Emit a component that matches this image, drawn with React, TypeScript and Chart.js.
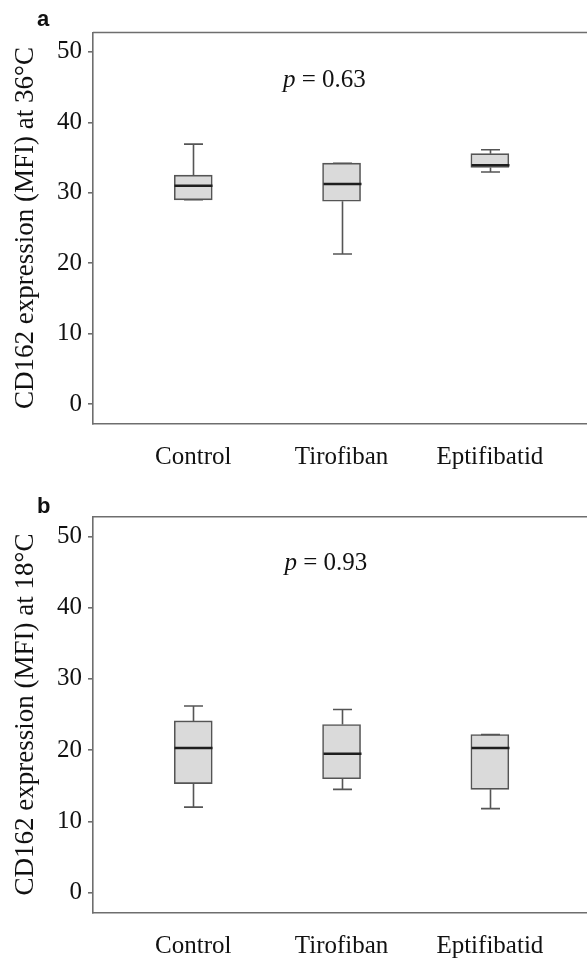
import React, { useEffect, useRef } from 'react';
import { Chart, registerables } from 'chart.js';
Chart.register(...registerables);

const categories = ['Control', 'Tirofiban', 'Eptifibatid'];
const positions = [1, 2, 3];
const yTicks = [0, 10, 20, 30, 40, 50];

// Panel a: CD162 at 36°C
const minA = [29.0, 21.3, 32.95];
const q1A = [29.0, 28.8, 33.6];
const medA = [31.0, 31.25, 33.9];
const q3A = [32.5, 34.2, 35.55];
const maxA = [36.9, 34.2, 36.1];

// Panel b: CD162 at 18°C
const minB = [12.0, 14.5, 11.8];
const q1B = [15.3, 16.0, 14.5];
const medB = [20.3, 19.5, 20.3];
const q3B = [24.1, 23.6, 22.2];
const maxB = [26.2, 25.7, 22.2];

const SERIF = '"Liberation Serif", "DejaVu Serif", serif';
const SANS = '"Liberation Sans", Arial, sans-serif';
const AXIS = '#6e6e6e';
const BOXLINE = '#555555';

type Stats = { min: number[]; q1: number[]; med: number[]; q3: number[]; max: number[] };

const boxExtras = {
  id: 'boxExtras',
  afterDatasetsDraw(chart: any, _a: any, opts: any) {
    const { ctx, scales } = chart;
    const x = scales.x;
    const y = scales.y;
    const s: Stats = opts.stats;
    ctx.save();
    for (let i = 0; i < positions.length; i++) {
      const cx = Math.round(x.getPixelForValue(positions[i])) + 0.5;
      const capHalf = x.getPixelForValue(positions[i] + 0.064) - x.getPixelForValue(positions[i]);
      const yMin = y.getPixelForValue(s.min[i]);
      const yQ1 = y.getPixelForValue(s.q1[i]);
      const yQ3 = y.getPixelForValue(s.q3[i]);
      const yMax = y.getPixelForValue(s.max[i]);
      const yMed = y.getPixelForValue(s.med[i]);
      ctx.strokeStyle = BOXLINE;
      ctx.lineWidth = 1.6;
      ctx.beginPath();
      ctx.moveTo(cx, yQ3);
      ctx.lineTo(cx, yMax);
      ctx.moveTo(cx - capHalf, yMax);
      ctx.lineTo(cx + capHalf, yMax);
      ctx.moveTo(cx, yQ1);
      ctx.lineTo(cx, yMin);
      ctx.moveTo(cx - capHalf, yMin);
      ctx.lineTo(cx + capHalf, yMin);
      ctx.stroke();
      const bw = opts.boxHalf;
      ctx.strokeStyle = '#1e1e1e';
      ctx.lineWidth = 2.6;
      ctx.beginPath();
      ctx.moveTo(cx - bw, yMed);
      ctx.lineTo(cx + bw, yMed);
      ctx.stroke();
    }
    ctx.restore();
  },
  afterDraw(chart: any, _a: any, opts: any) {
    const { ctx, chartArea } = chart;
    ctx.save();
    // top frame line
    ctx.strokeStyle = AXIS;
    ctx.lineWidth = 1.6;
    ctx.beginPath();
    ctx.moveTo(chartArea.left, chartArea.top);
    ctx.lineTo(chart.width, chartArea.top);
    ctx.stroke();
    // panel letter
    ctx.fillStyle = '#111';
    ctx.font = `bold 22px ${SANS}`;
    ctx.textBaseline = 'alphabetic';
    ctx.textAlign = 'left';
    ctx.fillText(opts.letter, 37, opts.letterY);
    // p value
    ctx.font = `italic 25px ${SERIF}`;
    ctx.fillText('p', opts.pX, opts.pY);
    const pw = ctx.measureText('p').width;
    ctx.font = `25px ${SERIF}`;
    ctx.fillText(' = ' + opts.pText, opts.pX + pw, opts.pY);
    ctx.restore();
  },
};

type PanelProps = {
  stats: Stats;
  title: string;
  letter: string;
  letterY: number;
  pText: string;
  pX: number;
  pY: number;
  padTop: number;
  xHeight: number;
  height: number;
  top: number;
};

function Panel(p: PanelProps) {
  const ref = useRef<HTMLCanvasElement | null>(null);
  useEffect(() => {
    if (!ref.current) return;
    const s = p.stats;
    const chart = new Chart(ref.current, {
      type: 'bar',
      data: {
        datasets: [
          {
            data: positions.map((pos, i) => ({ x: pos, y: [s.q1[i], s.q3[i]] })) as any,
            backgroundColor: '#dadada',
            borderColor: BOXLINE,
            borderWidth: 1.6,
            borderSkipped: false,
            barThickness: 38,
          },
        ],
      },
      options: {
        animation: false,
        responsive: false,
        maintainAspectRatio: false,
        layout: { padding: { top: p.padTop, left: 0, right: 0, bottom: 0 } },
        plugins: {
          legend: { display: false },
          tooltip: { enabled: false },
          boxExtras: {
            stats: s,
            boxHalf: 19,
            letter: p.letter,
            letterY: p.letterY,
            pText: p.pText,
            pX: p.pX,
            pY: p.pY,
          },
        } as any,
        scales: {
          x: {
            type: 'linear',
            offset: false,
            min: 0.324,
            max: 3.655,
            afterBuildTicks: (sc: any) => {
              sc.ticks = positions.map((v) => ({ value: v }));
            },
            afterFit: (sc: any) => {
              sc.height = p.xHeight;
            },
            ticks: {
              callback: (v: any) => categories[positions.indexOf(Number(v))] ?? '',
              font: { family: SERIF, size: 25 },
              color: '#111',
              padding: 19,
              maxRotation: 0,
              autoSkip: false,
            },
            grid: { display: false, drawTicks: false, offset: false },
            border: { display: true, color: AXIS, width: 1.6 },
          },
          y: {
            type: 'linear',
            min: -2.75,
            max: 52.75,
            afterBuildTicks: (sc: any) => {
              sc.ticks = yTicks.map((v) => ({ value: v }));
            },
            afterFit: (sc: any) => {
              sc.width = 93;
            },
            ticks: {
              font: { family: SERIF, size: 25 },
              color: '#111',
              padding: 6,
            },
            grid: {
              display: true,
              drawOnChartArea: false,
              drawTicks: true,
              tickLength: 5,
              color: AXIS,
              lineWidth: 1.6,
            },
            border: { display: true, color: AXIS, width: 1.6 },
            title: {
              display: true,
              text: p.title,
              font: { family: SERIF, size: 27 },
              color: '#111',
              padding: { top: 10, bottom: 0 },
            },
          },
        },
      },
      plugins: [boxExtras as any],
    });
    return () => chart.destroy();
  }, []);
  return (
    <canvas
      ref={ref}
      width={587}
      height={p.height}
      style={{ position: 'absolute', left: 0, top: p.top, width: 587, height: p.height }}
    />
  );
}

export default function App() {
  return (
    <div
      style={{
        position: 'absolute',
        left: 0,
        top: 0,
        width: 587,
        height: 958,
        overflow: 'hidden',
        background: '#ffffff',
      }}
    >
      <Panel
        stats={{ min: minA, q1: q1A, med: medA, q3: q3A, max: maxA }}
        title="CD162 expression (MFI) at 36°C"
        letter="a"
        letterY={25.5}
        pText="0.63"
        pX={283}
        pY={87.3}
        padTop={32.5}
        xHeight={55.5}
        height={479}
        top={0}
      />
      <Panel
        stats={{ min: minB, q1: q1B, med: medB, q3: q3B, max: maxB }}
        title="CD162 expression (MFI) at 18°C"
        letter="b"
        letterY={34.3}
        pText="0.93"
        pX={284.5}
        pY={91}
        padTop={37.7}
        xHeight={45.7}
        height={479}
        top={479}
      />
    </div>
  );
}
